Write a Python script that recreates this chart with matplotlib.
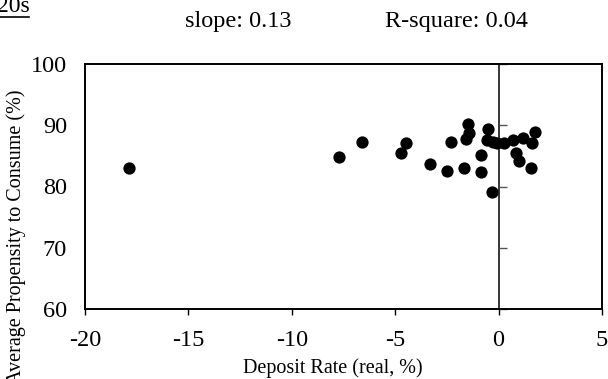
import matplotlib.pyplot as plt
from matplotlib.lines import Line2D
from matplotlib.markers import TICKRIGHT

# real deposit rate (%) vs average propensity to consume (%)
deposit_rate = [-17.85, -7.7, -6.6, -4.7, -4.5, -3.3, -2.5, -2.3, -1.65, -1.5,
                -1.45, -1.6, -0.85, -0.85, -0.5, -0.55, -0.3, -0.25, -0.1, 0.25,
                0.7, 1.2, 1.6, 1.75, 0.85, 1.0, 1.55]
consume = [83.1, 84.8, 87.3, 85.5, 87.1, 83.6, 82.6, 87.3, 83.1, 90.2,
           88.8, 87.8, 85.1, 82.4, 89.4, 87.6, 79.1, 87.3, 87.1, 87.1,
           87.6, 87.9, 87.1, 88.9, 85.5, 84.1, 83.0]

x_ticks = [-20, -15, -10, -5, 0, 5]
y_ticks = [60, 70, 80, 90, 100]

plt.rcParams['font.family'] = ['Liberation Serif', 'DejaVu Serif']

W, H = 608, 379
fig = plt.figure(figsize=(W / 100, H / 100), dpi=100)
ax = fig.add_axes([85 / W, 1 - 309 / H, (602 - 85) / W, (309 - 64) / H])

ax.scatter(deposit_rate, consume, s=78, color='black', zorder=3, linewidths=0)

ax.set_xlim(-20, 5)
ax.set_ylim(60, 100)
ax.set_xticks(x_ticks)
ax.set_yticks(y_ticks)
ax.set_xticklabels([str(t) for t in x_ticks])
ax.tick_params(axis='x', direction='out', length=4, width=1, pad=11, labelsize=17.5)
ax.tick_params(axis='y', length=0, pad=13, labelsize=17.5)
for s in ax.spines.values():
    s.set_linewidth(1.4)

# vertical axis crossing at zero with its own small tick marks
ax.axvline(0, color='black', lw=1.1, zorder=2)
ax.plot([0] * len(y_ticks), y_ticks, linestyle='none', marker=TICKRIGHT,
        ms=6, mew=1, color='#555555', clip_on=False)

fig.text(333 / W, 1 - 368 / H, 'Deposit Rate (real, %)', ha='center',
         va='center', fontsize=14.5)
fig.text(16 / W, 1 - 237 / H, 'Average Propensity to Consume (%)', rotation=90,
         ha='center', va='center', fontsize=14.5)

fig.text(185 / W, 1 - 22 / H, 'slope: 0.13', ha='left', va='center', fontsize=17.5)
fig.text(385 / W, 1 - 22 / H, 'R-square: 0.04', ha='left', va='center', fontsize=17.5)

# panel label, partly cut off at the top edge
fig.text(-3 / W, 1 - 12 / H, '20s', ha='left', va='baseline', fontsize=17)
fig.add_artist(Line2D([0, 29 / W], [1 - 16.5 / H, 1 - 16.5 / H], color='black', lw=1.2))

fig.savefig('out.png', dpi=100)
